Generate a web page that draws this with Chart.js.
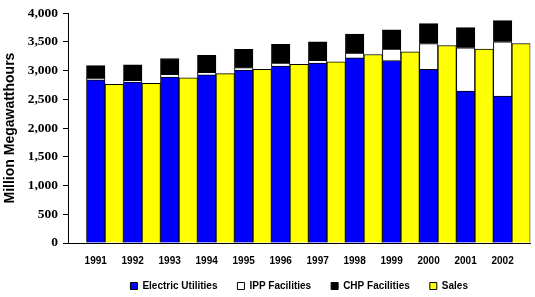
<!DOCTYPE html>
<html lang="en">
<head>
<meta charset="UTF-8">
<title>Generation and Sales</title>
<script src="https://cdn.jsdelivr.net/npm/chart.js"></script>
<style>
    body { margin: 0; background: #fff; }
    .wrap { width: 535px; height: 297px; }
</style>
</head>
<body>
<div class="wrap"><canvas id="chart"></canvas></div>
<script>
const years = ['1991', '1992', '1993', '1994', '1995', '1996', '1997', '1998', '1999', '2000', '2001', '2002'];
const utilities = [2840, 2800, 2885, 2925, 3010, 3080, 3130, 3220, 3175, 3020, 2645, 2555];
const ipp = [28, 30, 50, 45, 40, 50, 50, 85, 200, 450, 750, 945];
const chp = [217, 270, 275, 295, 320, 325, 320, 332, 332, 347, 353, 369];
const sales = [2762, 2780, 2872, 2947, 3022, 3108, 3153, 3280, 3327, 3437, 3373, 3471];
const yTicks = [0, 500, 1000, 1500, 2000, 2500, 3000, 3500, 4000];

// bars sit on a linear axis so the group can start one bar in from the y axis
const pts = arr => arr.map((v, i) => ({ x: i, y: v }));

function bar(label, values, color, stack) {
    return {
        label: label,
        data: pts(values),
        backgroundColor: color,
        borderColor: '#000',
        borderWidth: 1,
        stack: stack,
        barPercentage: 1,
        categoryPercentage: 1
    };
}

// legend row sits a bit closer to the year labels than its padding allows
const liftLegend = {
    id: 'liftLegend',
    afterLayout(chart) {
        chart.legend.top -= 6;
        chart.legend.bottom -= 6;
    }
};

new Chart(document.getElementById('chart'), {
    type: 'bar',
    data: {
        datasets: [
            bar('Electric Utilities', utilities, '#0000ff', 'gen'),
            bar('IPP Facilities', ipp, '#ffffff', 'gen'),
            bar('CHP Facilities', chp, '#000000', 'gen'),
            bar('Sales', sales, '#ffff00', 'sales')
        ]
    },
    plugins: [liftLegend],
    options: {
        responsive: true,
        maintainAspectRatio: false,
        animation: false,
        layout: { padding: { top: 4, right: 0, bottom: 0 } },
        plugins: {
            tooltip: { enabled: false },
            legend: {
                position: 'bottom',
                fullSize: false,
                maxHeight: 30,
                labels: {
                    boxWidth: 7,
                    boxHeight: 7,
                    padding: 20,
                    color: '#000',
                    font: { family: 'Liberation Sans', size: 10, weight: 'bold' }
                }
            }
        },
        scales: {
            x: {
                type: 'linear',
                stacked: true,
                min: -1,
                max: 11.5,
                offset: false,
                grid: { display: false, drawTicks: false },
                border: { display: true, color: '#000', width: 1 },
                afterBuildTicks: axis => { axis.ticks = years.map((y, i) => ({ value: i })); },
                afterFit: axis => { axis.height = 24; },
                ticks: {
                    autoSkip: false,
                    maxRotation: 0,
                    padding: 12,
                    labelOffset: -9.3,
                    color: '#000',
                    font: { family: 'Liberation Sans', size: 10, weight: 'bold' },
                    callback: v => years[v] ?? ''
                }
            },
            y: {
                stacked: true,
                min: 0,
                max: 4000,
                afterFit: axis => { axis.width = 68; },
                afterBuildTicks: axis => { axis.ticks = yTicks.map(v => ({ value: v })); },
                grid: { drawOnChartArea: false, drawTicks: true, tickLength: 5, color: '#000' },
                border: { color: '#000', width: 1 },
                ticks: {
                    padding: 5,
                    color: '#000',
                    font: { family: 'Liberation Serif', size: 13.5, weight: 'bold' },
                    callback: v => v.toLocaleString('en-US')
                },
                title: {
                    display: true,
                    text: 'Million Megawatthours',
                    color: '#000',
                    padding: { top: 2, bottom: 0 },
                    font: { family: 'Liberation Sans', size: 14, weight: 'bold' }
                }
            }
        }
    }
});
</script>
</body>
</html>
